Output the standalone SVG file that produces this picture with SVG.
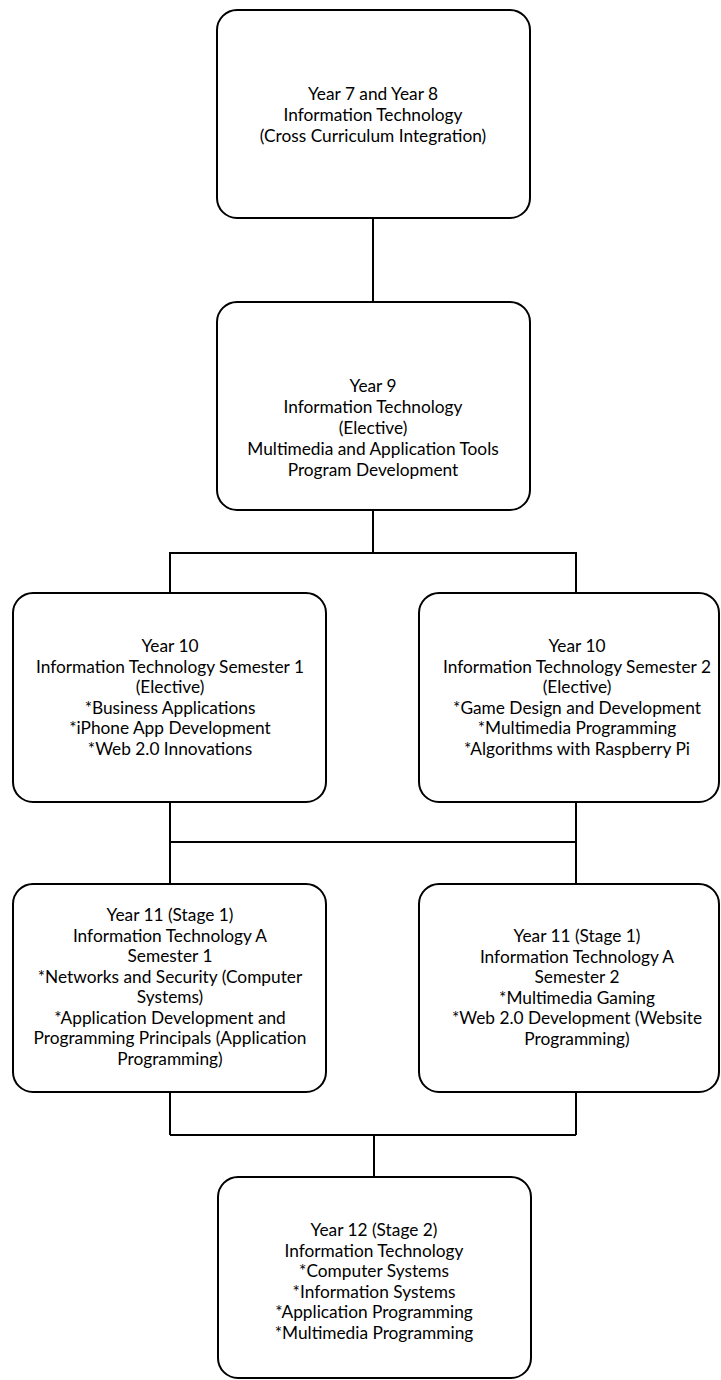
<svg xmlns="http://www.w3.org/2000/svg" width="721" height="1380" viewBox="0 0 721 1380">
  <style>
    .box { fill: #ffffff; stroke: #000000; stroke-width: 2; }
    .wire { fill: none; stroke: #000000; stroke-width: 2; }
    text { font-family: Lato, "Open Sans", "Liberation Sans", sans-serif; font-size: 17.3px; fill: #000000; text-anchor: middle; }
  </style>
  <rect width="721" height="1380" fill="#ffffff"/>

  <!-- connectors -->
  <g id="connectors">
    <path class="wire" d="M373,218 V302"/>
    <path class="wire" d="M373,510 V553 M170,553 H576 M170,552 V593 M576,552 V593"/>
    <path class="wire" d="M170,802 V884 M576,802 V884 M170,842 H576"/>
    <path class="wire" d="M170,1092 V1135 M576,1092 V1135 M170,1135 H576 M374,1135 V1177"/>
  </g>

  <g id="year7-8">
    <rect class="box" x="217" y="10" width="313" height="208" rx="20"/>
    <text x="373" y="100">Year 7 and Year 8</text>
    <text x="373" y="121">Information Technology</text>
    <text x="373" y="142">(Cross Curriculum Integration)</text>
  </g>

  <g id="year9">
    <rect class="box" x="217" y="302" width="313" height="208" rx="20"/>
    <text x="373" y="392">Year 9</text>
    <text x="373" y="413">Information Technology</text>
    <text x="373" y="434">(Elective)</text>
    <text x="373" y="455">Multimedia and Application Tools</text>
    <text x="373" y="476">Program Development</text>
  </g>

  <g id="year10-sem1">
    <rect class="box" x="13" y="593" width="313" height="209" rx="20"/>
    <text x="170" y="652">Year 10</text>
    <text x="170" y="672.5">Information Technology Semester 1</text>
    <text x="170" y="693">(Elective)</text>
    <text x="170" y="713.5">*Business Applications</text>
    <text x="170" y="734">*iPhone App Development</text>
    <text x="170" y="754.5">*Web 2.0 Innovations</text>
  </g>

  <g id="year10-sem2">
    <rect class="box" x="419" y="593" width="300" height="209" rx="20"/>
    <text x="577" y="652">Year 10</text>
    <text x="577" y="672.5">Information Technology Semester 2</text>
    <text x="577" y="693">(Elective)</text>
    <text x="577" y="713.5">*Game Design and Development</text>
    <text x="577" y="734">*Multimedia Programming</text>
    <text x="577" y="754.5">*Algorithms with Raspberry Pi</text>
  </g>

  <g id="year11-sem1">
    <rect class="box" x="13" y="884" width="313" height="208" rx="20"/>
    <text x="170" y="921">Year 11 (Stage 1)</text>
    <text x="170" y="941.5">Information Technology A</text>
    <text x="170" y="962">Semester 1</text>
    <text x="170" y="982.5">*Networks and Security (Computer</text>
    <text x="170" y="1003">Systems)</text>
    <text x="170" y="1023.5">*Application Development and</text>
    <text x="170" y="1044">Programming Principals (Application</text>
    <text x="170" y="1064.5">Programming)</text>
  </g>

  <g id="year11-sem2">
    <rect class="box" x="419" y="884" width="300" height="208" rx="20"/>
    <text x="577" y="942">Year 11 (Stage 1)</text>
    <text x="577" y="962.5">Information Technology A</text>
    <text x="577" y="983">Semester 2</text>
    <text x="577" y="1003.5">*Multimedia Gaming</text>
    <text x="577" y="1024">*Web 2.0 Development (Website</text>
    <text x="577" y="1044.5">Programming)</text>
  </g>

  <g id="year12">
    <rect class="box" x="218" y="1177" width="313" height="201" rx="20"/>
    <text x="374" y="1236">Year 12 (Stage 2)</text>
    <text x="374" y="1256.5">Information Technology</text>
    <text x="374" y="1277">*Computer Systems</text>
    <text x="374" y="1297.5">*Information Systems</text>
    <text x="374" y="1318">*Application Programming</text>
    <text x="374" y="1338.5">*Multimedia Programming</text>
  </g>
</svg>
